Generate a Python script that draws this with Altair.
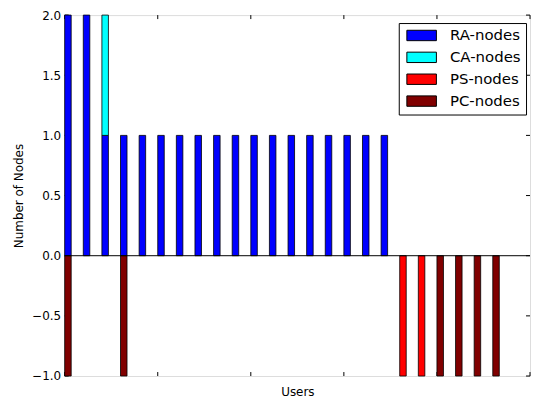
import altair as alt
import pandas as pd

# ---- data ----
users = list(range(24))
ra_nodes = [2, 2, 1] + [1] * 15 + [0] * 6
ca_nodes = [0, 0, 1] + [0] * 15 + [0] * 6
ps_nodes = [0] * 18 + [-1, -1, 0, 0, 0, 0]
pc_nodes = [-1, 0, 0, -1] + [0] * 14 + [0, 0, -1, -1, -1, -1]

series_names = ["RA-nodes", "CA-nodes", "PS-nodes", "PC-nodes"]
series_colors = ["#0000ff", "#00ffff", "#ff0000", "#800000"]

y_ticks = [-1.0, -0.5, 0.0, 0.5, 1.0, 1.5, 2.0]
x_ticks = [0, 5, 10, 15, 20, 25]

rows = []
for u, ra, ca, ps, pc in zip(users, ra_nodes, ca_nodes, ps_nodes, pc_nodes):
    segs = [
        ("RA-nodes", 0, ra),
        ("CA-nodes", ra, ra + ca),
        ("PS-nodes", 0, ps),
        ("PC-nodes", ps, ps + pc),
    ]
    for name, lo, hi in segs:
        if hi != lo:
            rows.append({"user": u, "series": name, "lo": lo, "hi": hi})
df = pd.DataFrame(rows)

W, H = 468, 363
BAR_W = 0.35
TICK = 4

xscale = alt.Scale(domain=[0, 25], nice=False, zero=False)
yscale = alt.Scale(domain=[-1, 2], nice=False, zero=False)

bars = alt.Chart(df).mark_bar(stroke="black", strokeWidth=0.8, opacity=1).transform_calculate(
    x2=alt.datum.user + BAR_W
).encode(
    x=alt.X("user:Q", scale=xscale,
            axis=alt.Axis(title="Users", labels=False, ticks=False, grid=False, domain=False,
                          titlePadding=11, titleFontSize=12, titleFontWeight="normal",
                          titleFont="DejaVu Sans", titleColor="black")),
    x2="x2:Q",
    y=alt.Y("lo:Q", scale=yscale,
            axis=alt.Axis(title="Number of Nodes", values=y_ticks, format=".1f", ticks=False,
                          grid=False, domain=False, labelPadding=4, labelFontSize=12,
                          labelFont="DejaVu Sans", labelColor="black",
                          titlePadding=6, titleFontSize=12, titleFontWeight="normal",
                          titleFont="DejaVu Sans", titleColor="black")),
    y2="hi:Q",
    color=alt.Color("series:N",
                    scale=alt.Scale(domain=series_names, range=series_colors),
                    legend=alt.Legend(title=None, orient="none", legendX=336, legendY=8,
                                      symbolType="M-2.7,-0.95H2.7V0.95H-2.7Z", symbolSize=121,
                                      symbolStrokeColor="black", symbolStrokeWidth=1,
                                      symbolOpacity=1, symbolOffset=10.5,
                                      labelFontSize=15, labelFont="DejaVu Sans", labelColor="black",
                                      labelOffset=21, rowPadding=6, padding=5,
                                      strokeColor="black", fillColor="white",
                                      cornerRadius=0)),
)

zero_df = pd.DataFrame({"v": [0]})
zero_line = alt.Chart(zero_df).mark_rule(color="black", strokeWidth=1).encode(
    y=alt.Y("v:Q", scale=yscale), x=alt.value(0), x2=alt.value(W)
)

yt = pd.DataFrame({"v": y_ticks})
xt = pd.DataFrame({"v": x_ticks})
yt_left = alt.Chart(yt).mark_rule(color="black", strokeWidth=1).encode(
    y=alt.Y("v:Q", scale=yscale), x=alt.value(0), x2=alt.value(TICK))
yt_right = alt.Chart(yt).mark_rule(color="black", strokeWidth=1).encode(
    y=alt.Y("v:Q", scale=yscale), x=alt.value(W - TICK), x2=alt.value(W))
xt_bot = alt.Chart(xt).mark_rule(color="black", strokeWidth=1).encode(
    x=alt.X("v:Q", scale=xscale), y=alt.value(H), y2=alt.value(H - TICK))
xt_top = alt.Chart(xt).mark_rule(color="black", strokeWidth=1).encode(
    x=alt.X("v:Q", scale=xscale), y=alt.value(0), y2=alt.value(TICK))

chart = alt.layer(yt_left, yt_right, xt_bot, xt_top, bars, zero_line).properties(
    width=W, height=H,
    autosize=alt.AutoSizeParams(type="none"),
    padding={"left": 57, "top": 6, "right": 1, "bottom": 26},
).configure_view(stroke="black", strokeWidth=1).configure(background="white")

chart.save("out.html", embed_options={"renderer": "svg", "actions": False})
